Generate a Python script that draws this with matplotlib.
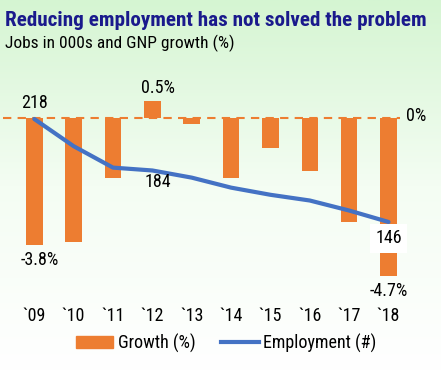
import numpy as np
import matplotlib
matplotlib.use("Agg")
import matplotlib.pyplot as plt
from matplotlib import font_manager as fm
from matplotlib.colors import LinearSegmentedColormap
from matplotlib.patches import Patch
from matplotlib.lines import Line2D

# === Données ===
years = ["`09", "`10", "`11", "`12", "`13", "`14", "`15", "`16", "`17", "`18"]
growth = [-3.8, -3.7, -1.8, 0.5, -0.2, -1.8, -0.9, -1.6, -3.1, -4.7]
employment = [218, 199, 184, 182, 177, 170, 165, 161, 154, 146]

orange = "#ED7D31"
blue = "#4472C4"

# police étroite (type Arial Narrow) si disponible
installed = {f.name for f in fm.fontManager.ttflist}
wanted = ["Liberation Sans Narrow", "Arial Narrow", "Roboto Condensed",
          "Archivo Narrow", "PT Sans Narrow", "Open Sans Condensed"]
narrow = [f for f in wanted if f in installed][:1] + ["DejaVu Sans"]
plt.rcParams["font.family"] = narrow
FS = 13

W, H = 441, 371
fig = plt.figure(figsize=(W / 100, H / 100), dpi=100)

# fond dégradé vert -> blanc
bg = fig.add_axes([0, 0, 1, 1], zorder=-10)
cmap = LinearSegmentedColormap.from_list("bg", ["#d5f5d2", "#f4fdf3", "#ffffff"])
grad = np.linspace(0, 1, 256).reshape(-1, 1)
bg.imshow(grad, aspect="auto", cmap=cmap, extent=[0, 1, 0, 1], origin="upper")
bg.axis("off")

# === Axes ===
top_px, bot_px = 90, 290
ax = fig.add_axes([0, (H - bot_px) / H, 1, (bot_px - top_px) / H])
ax.patch.set_alpha(0)
x = np.arange(len(years))
ax.bar(x, growth, width=0.42, color=orange, zorder=2)
ax.set_xlim(-0.871, 10.334)
zero_px, pct_px = 117.7, 33.6
ax.set_ylim(-(bot_px - zero_px) / pct_px, (zero_px - top_px) / pct_px)
ax.plot([-0.8, 9.3], [0, 0], ls=(0, (4, 3)), color=orange, lw=1.5, zorder=1)
ax.text(9.45, 0.05, "0%", fontsize=FS, va="center", ha="left")

for sp in ax.spines.values():
    sp.set_visible(False)
ax.set_yticks([])
ax.set_xticks(x)
ax.set_xticklabels(years, fontsize=FS)
ax.tick_params(axis="x", length=0, pad=12)

# étiquettes des barres
ax.text(0.15, growth[0] - 0.18, "-3.8%", ha="center", va="top", fontsize=FS)
ax.text(9.0, growth[9] - 0.18, "-4.7%", ha="center", va="top", fontsize=FS)
ax.text(3.15, growth[3] + 0.12, "0.5%", ha="center", va="bottom", fontsize=FS)

# ligne emploi
ax2 = ax.twinx()
ax2.patch.set_alpha(0)
e0_px, e_px = 119, 1.43
ax2.set_ylim(218 - (bot_px - e0_px) / e_px, 218 + (e0_px - top_px) / e_px)
ax2.plot(x, employment, color=blue, lw=3, solid_capstyle="round", zorder=3)
for sp in ax2.spines.values():
    sp.set_visible(False)
ax2.set_yticks([])

ax2.text(0, 218 + 5, "218", ha="center", va="bottom", fontsize=FS)
ax2.text(3.14, 184 - 4, "184", ha="center", va="top", fontsize=FS)
ax2.text(9, 146 - 5, "146", ha="center", va="top", fontsize=FS,
         bbox=dict(facecolor="white", edgecolor="none", pad=4), zorder=5)

# === Titres ===
fig.text(5 / W, 1 - 21 / H, "Reducing employment has not solved the problem",
         fontsize=15.2, fontweight="bold", color="#1a1a8c", va="center", ha="left")
fig.text(5 / W, 1 - 43 / H, "Jobs in 000s and GNP growth (%)",
         fontsize=12.5, va="center", ha="left")

# === Légende ===
handles = [Patch(color=orange), Line2D([], [], color=blue, lw=3)]
fig.legend(handles, ["Growth (%)", "Employment (#)"], loc="center",
           bbox_to_anchor=(0.5125, 1 - 343 / H), ncol=2, frameon=False,
           fontsize=FS, handlelength=2.1, handletextpad=0.25, columnspacing=1.4)

fig.savefig("out.png", dpi=100)
